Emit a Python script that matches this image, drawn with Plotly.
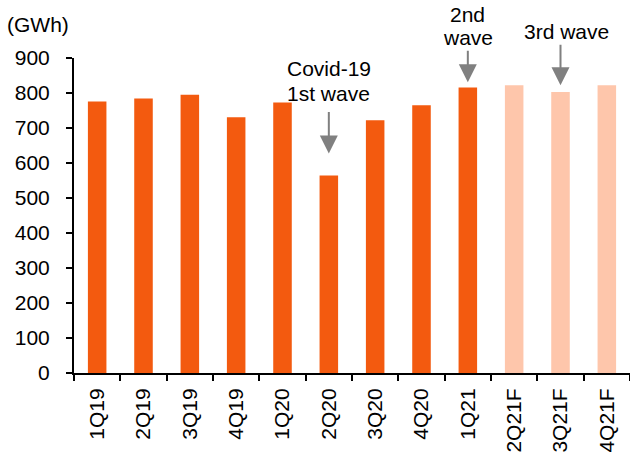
import plotly.graph_objects as go

categories = ["1Q19", "2Q19", "3Q19", "4Q19", "1Q20", "2Q20", "3Q20", "4Q20", "1Q21", "2Q21F", "3Q21F", "4Q21F"]
values = [776, 784, 795, 731, 773, 564, 722, 765, 816, 822, 803, 822]
is_forecast = [False] * 9 + [True] * 3

ACTUAL = "#F35A0F"
FORECAST = "#FEC6AB"
ARROW = "#808080"
FONT = "Liberation Sans, Arial, sans-serif"
FS = 21

colors = [FORECAST if f else ACTUAL for f in is_forecast]

fig = go.Figure(go.Bar(x=categories, y=values, marker=dict(color=colors, line=dict(width=0)), width=0.4))

# arrows: (category, tip value, tail offset px)
arrows = [("2Q20", 627, -43), ("1Q21", 831, -33), ("3Q21F", 822, -42)]
# text lines: (category, text, y (paper), xshift)
labels = [
    ("2Q20", "Covid-19", 0.967, 0),
    ("2Q20", "1st wave", 0.888, 0),
    ("1Q21", "2nd", 1.139, 0),
    ("1Q21", "wave", 1.066, 0),
    ("3Q21F", "3rd wave", 1.085, 6),
]
for cat, tip, off in arrows:
    fig.add_annotation(x=cat, y=tip, ax=0, ay=off, text="", showarrow=True,
                       arrowhead=2, arrowsize=1.8, arrowwidth=2, arrowcolor=ARROW, standoff=0)
for cat, txt, ty, xs in labels:
    fig.add_annotation(x=cat, y=ty, yref="paper", text=txt, showarrow=False, xshift=xs,
                       font=dict(size=FS, color="black", family=FONT), yanchor="middle")

fig.add_annotation(xref="paper", yref="paper", x=-0.125, y=1.107, xanchor="left", yanchor="middle",
                   text="(GWh)", showarrow=False, font=dict(size=FS, color="black", family=FONT))

fig.update_layout(
    width=630, height=452,
    margin=dict(l=74, r=0, t=58, b=79, autoexpand=False),
    plot_bgcolor="white", paper_bgcolor="white",
    font=dict(family=FONT, size=FS, color="black"),
    showlegend=False,
    xaxis=dict(range=[-0.5, 11.5], showline=True, linecolor="black", linewidth=2,
               ticks="outside", tickson="boundaries", ticklen=6, tickwidth=2, tickcolor="black",
               tickangle=-90, tickfont=dict(size=FS), showgrid=False, ticklabelstandoff=5,
               automargin=False),
    yaxis=dict(range=[0, 900], dtick=100, showline=True, linecolor="black", linewidth=2,
               ticks="outside", ticklen=6, tickwidth=2, tickcolor="black",
               tickfont=dict(size=FS), showgrid=False, zeroline=False, ticklabelstandoff=12,
               automargin=False),
)

fig.write_html("out.html")
